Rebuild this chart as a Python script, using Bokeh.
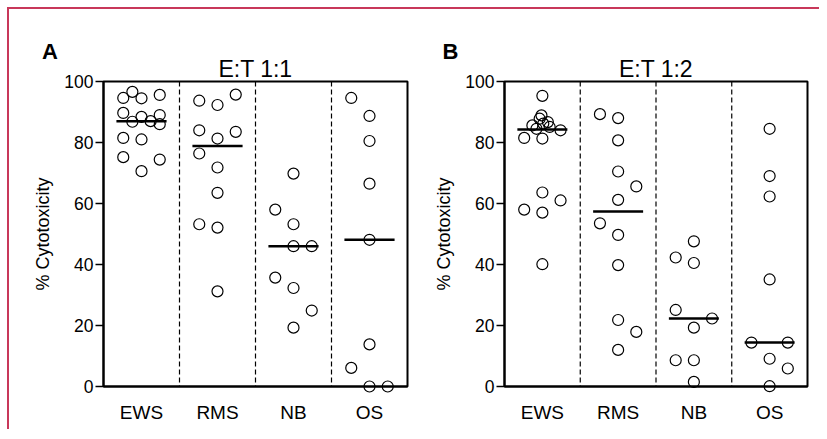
from bokeh.plotting import figure
from bokeh.models import Range1d, FixedTicker, Span, Title
from bokeh.core.properties import value
from bokeh.layouts import row
from bokeh.embed import file_html
from bokeh.resources import INLINE
import numpy as np

categories = ["EWS", "RMS", "NB", "OS"]
y_ticks = [0, 20, 40, 60, 80, 100]

# Panel A: E:T 1:1  (% cytotoxicity per sample)
a_ews = [94.6, 96.6, 94.5, 95.6, 89.7, 86.8, 88.4, 87.0, 89.0, 86.0, 81.5, 81.0, 75.2, 70.6, 74.4]
a_rms = [93.7, 92.3, 95.7, 84.0, 81.3, 83.5, 76.4, 71.8, 63.5, 53.2, 52.1, 31.2]
a_nb = [69.8, 58.0, 53.2, 46.0, 46.0, 35.7, 32.3, 24.9, 19.3]
a_os = [94.6, 88.7, 80.5, 66.5, 48.1, 13.8, 6.1, 0.0, 0.0]

# Panel B: E:T 1:2
b_ews = [95.3, 88.9, 87.8, 86.7, 86.2, 85.6, 85.1, 84.5, 84.0, 81.5, 81.3, 63.6, 61.0, 58.0, 57.0, 40.1]
b_rms = [89.3, 88.0, 80.7, 70.5, 65.6, 61.2, 53.5, 49.7, 39.8, 21.8, 17.9, 12.0]
b_nb = [47.6, 42.3, 40.5, 25.1, 22.3, 19.3, 8.6, 8.6, 1.5]
b_os = [84.5, 69.0, 62.3, 35.1, 14.4, 14.4, 9.1, 5.9, 0.1]

# beeswarm side offsets (in point steps) - layout only
a_ews_dx = [-2, -1, 0, 2, -2, -1, 0, 1, 2, 2, -2, 0, -2, 0, 2]
a_rms_dx = [-2, 0, 2, -2, 0, 2, -2, 0, 0, -2, 0, 0]
a_nb_dx = [0, -2, 0, 0, 2, -2, 0, 2, 0]
a_os_dx = [-2, 0, 0, 0, 0, 0, -2, 0, 2]
b_ews_dx = [0, -0.1, -0.3, 0.6, 0.1, -1.1, 0.8, -0.65, 2, -2, 0, 0, 2, -2, 0, 0]
b_rms_dx = [-2, 0, 0, 0, 2, 0, -2, 0, 0, 0, 2, 0]
b_nb_dx = [0, -2, 0, -2, 2, 0, -2, 0, 0]
b_os_dx = [0, 0, 0, 0, -2, 2, 0, 2, 0]

FONT = "Liberation Sans"
STEP = 0.12
BORDER = "#c8385a"


def make_panel(letter, title, groups, offsets, width, min_left, letter_x):
    p = figure(width=width, height=420, x_range=Range1d(0, 4), y_range=Range1d(0, 100),
               output_backend="svg", toolbar_location=None,
               min_border_left=min_left, min_border_right=12,
               min_border_top=72, min_border_bottom=43)
    p.add_layout(Title(text=title, align="center", text_font=FONT, text_font_size="23px",
                       text_font_style="normal", text_color="black", standoff=0), "above")
    p.grid.visible = False
    p.outline_line_color = "black"
    p.outline_line_width = 2
    p.background_fill_color = "white"
    p.border_fill_color = "white"

    # dividers between categories
    for b in range(1, len(categories)):
        p.add_layout(Span(location=b, dimension="height", line_color="black",
                          line_width=1.2, line_dash="5 3"))

    xs, ys = [], []
    mx0, mx1, my = [], [], []
    for i, (vals, dx) in enumerate(zip(groups, offsets)):
        c = i + 0.5
        xs += [c + d * STEP for d in dx]
        ys += list(vals)
        mx0.append(c - 0.33)
        mx1.append(c + 0.33)
        my.append(float(np.median(vals)))

    p.segment(x0=mx0, x1=mx1, y0=my, y1=my, line_color="black", line_width=2.5)
    r = p.scatter(x=xs, y=ys, marker="circle", size=11, fill_color=None,
                  line_color="black", line_width=1.2)
    r.level = "overlay"

    # panel letter
    t = p.text(x=[letter_x], y=[114.0], text=[letter], text_align="left",
               text_baseline="top", text_font=value(FONT), text_font_size="22px",
               text_font_style="bold", text_color="black")
    t.level = "overlay"

    p.xaxis.ticker = FixedTicker(ticks=[i + 0.5 for i in range(len(categories))])
    p.xaxis.major_label_overrides = {i + 0.5: c for i, c in enumerate(categories)}
    p.xaxis.major_tick_line_color = None
    p.xaxis.minor_tick_line_color = None
    p.xaxis.axis_line_width = 2
    p.xaxis.major_label_text_font = FONT
    p.xaxis.major_label_text_font_size = "19px"
    p.xaxis.major_label_text_color = "black"
    p.xaxis.major_label_standoff = 9

    p.yaxis.ticker = FixedTicker(ticks=y_ticks)
    p.yaxis.minor_tick_line_color = None
    p.yaxis.axis_line_width = 2
    p.yaxis.major_tick_line_width = 1.5
    p.yaxis.major_tick_out = 8
    p.yaxis.major_tick_in = 0
    p.yaxis.major_label_text_font = FONT
    p.yaxis.major_label_text_font_size = "17.5px"
    p.yaxis.major_label_text_color = "black"
    p.yaxis.major_label_standoff = 2
    p.yaxis.axis_label = "% Cytotoxicity"
    p.yaxis.axis_label_text_font = FONT
    p.yaxis.axis_label_text_font_size = "18px"
    p.yaxis.axis_label_text_font_style = "normal"
    p.yaxis.axis_label_text_color = "black"
    p.yaxis.axis_label_standoff = 8
    return p


pa = make_panel("A", "E:T 1:1", [a_ews, a_rms, a_nb, a_os],
                [a_ews_dx, a_rms_dx, a_nb_dx, a_os_dx], 410, 94, -0.81)
pb = make_panel("B", "E:T 1:2", [b_ews, b_rms, b_nb, b_os],
                [b_ews_dx, b_rms_dx, b_nb_dx, b_os_dx], 400, 85, -0.82)

layout = row(pa, pb, styles={"border-top": f"2px solid {BORDER}",
                             "border-left": f"2px solid {BORDER}",
                             "margin-top": "7px", "margin-left": "7px"})

open("out.html", "w").write(file_html(layout, INLINE))
